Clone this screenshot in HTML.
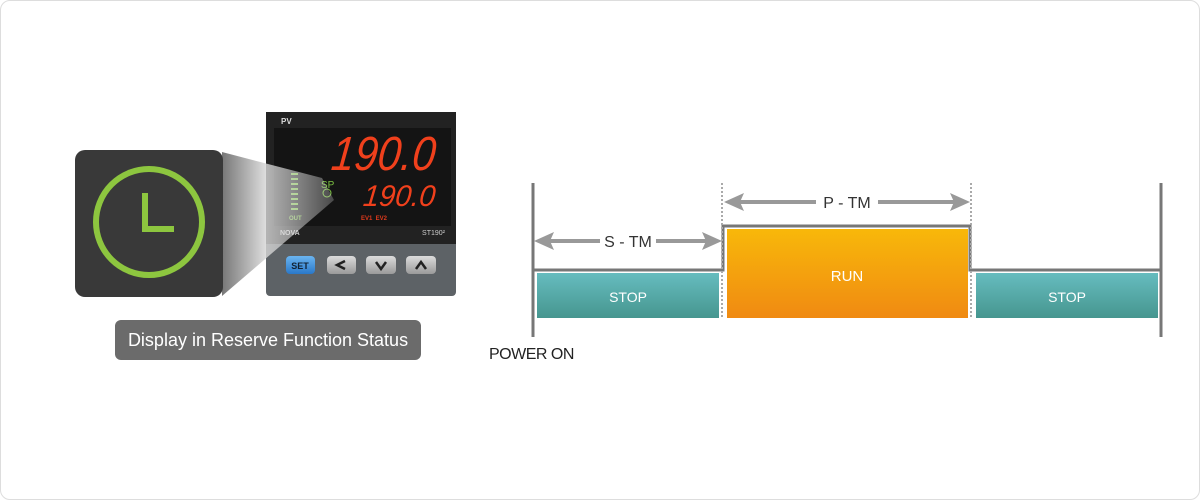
<!DOCTYPE html>
<html><head><meta charset="utf-8"><style>
body{margin:0;background:#fff;}
.wrap{position:relative;width:1200px;height:500px;overflow:hidden;font-family:"Liberation Sans",sans-serif;}
.frame{position:absolute;left:0;top:0;width:1198px;height:498px;border:1px solid #ddd;border-radius:10px;}
.abs{position:absolute;}
</style></head><body><div class="wrap">
<div class="frame"></div>
<svg class="abs" style="left:0;top:0" width="1200" height="500">
<defs>
<linearGradient id="beam" x1="0" x2="1" y1="0" y2="0"><stop offset="0" stop-color="#555"/><stop offset="0.4" stop-color="#d8d8d8"/><stop offset="1" stop-color="#eee" stop-opacity="0.3"/></linearGradient>
<linearGradient id="run" x1="0" x2="0" y1="0" y2="1"><stop offset="0" stop-color="#f8b80a"/><stop offset="1" stop-color="#f08a12"/></linearGradient>
<linearGradient id="stop" x1="0" x2="0" y1="0" y2="1"><stop offset="0" stop-color="#66bcbf"/><stop offset="1" stop-color="#46968f"/></linearGradient>
<linearGradient id="btn" x1="0" x2="0" y1="0" y2="1"><stop offset="0" stop-color="#dcdcdc"/><stop offset="1" stop-color="#9a9a9a"/></linearGradient>
<linearGradient id="set" x1="0" x2="0" y1="0" y2="1"><stop offset="0" stop-color="#6ab4f0"/><stop offset="1" stop-color="#2a78c8"/></linearGradient>
</defs>
<!-- device -->
<rect x="266" y="112" width="190" height="184" rx="4" fill="#5d6266"/>
<rect x="266" y="112" width="190" height="132" fill="#222"/>
<rect x="274" y="128" width="177" height="98" fill="#141414"/>
<text x="281" y="124" font-size="8" font-weight="bold" fill="#ddd">PV</text>
<text x="434" y="170" font-size="48" fill="#f0401c" text-anchor="end" font-style="italic" transform="skewX(-6) translate(18,0)" textLength="104" lengthAdjust="spacingAndGlyphs">190.0</text>
<text x="434" y="206" font-size="30" fill="#f0401c" text-anchor="end" font-style="italic" transform="skewX(-6) translate(22,0)" textLength="72" lengthAdjust="spacingAndGlyphs">190.0</text>
<g fill="#7cc242"><rect x="291" y="173" width="7" height="2"/><rect x="291" y="178" width="7" height="2"/><rect x="291" y="183" width="7" height="2"/><rect x="291" y="188" width="7" height="2"/><rect x="291" y="193" width="7" height="2"/><rect x="291" y="198" width="7" height="2"/><rect x="291" y="203" width="7" height="2"/><rect x="291" y="208" width="7" height="2"/></g>
<text x="289" y="220" font-size="6" font-weight="bold" fill="#7cc242">OUT</text>
<text x="321" y="188" font-size="10" fill="#7cc242">SP</text>
<circle cx="327" cy="193" r="4" fill="none" stroke="#7cc242" stroke-width="1"/>
<text x="361" y="220" font-size="6" font-weight="bold" fill="#e03a1c">EV1&#160;&#160;EV2</text>
<text x="280" y="235" font-size="7" font-weight="bold" fill="#ccc">NOVA</text>
<text x="445" y="235" font-size="7" fill="#ccc" text-anchor="end">ST190²</text>
<rect x="286" y="256" width="29" height="18" rx="4" fill="url(#set)"/>
<text x="300" y="269" font-size="9" font-weight="bold" fill="#123" text-anchor="middle">SET</text>
<rect x="327" y="256" width="29" height="18" rx="4" fill="url(#btn)"/>
<rect x="366" y="256" width="30" height="18" rx="4" fill="url(#btn)"/>
<rect x="406" y="256" width="30" height="18" rx="4" fill="url(#btn)"/>
<path d="M345 261 L337 265 L345 269" fill="none" stroke="#222" stroke-width="2.5"/>
<path d="M376 262 L381 269 L386 262" fill="none" stroke="#222" stroke-width="2.5"/>
<path d="M416 269 L421 262 L426 269" fill="none" stroke="#222" stroke-width="2.5"/>
<!-- beam -->
<polygon points="222,152 322,178 334,200 222,296" fill="url(#beam)" opacity="0.8"/>
<!-- zoom square -->
<rect x="75" y="150" width="148" height="147" rx="10" fill="#393939"/>
<circle cx="149" cy="222" r="53" fill="none" stroke="#8dc63f" stroke-width="6"/>
<path d="M145 193 V229 H174" fill="none" stroke="#8dc63f" stroke-width="6"/>
<!-- label -->
<rect x="115" y="320" width="306" height="40" rx="6" fill="#6b6b6b"/>
<text x="268" y="346" font-size="18" fill="#fff" text-anchor="middle">Display in Reserve Function Status</text>
<!-- timing -->
<rect x="537" y="273" width="182" height="45" fill="url(#stop)"/>
<rect x="976" y="273" width="182" height="45" fill="url(#stop)"/>
<rect x="727" y="229" width="241" height="89" fill="url(#run)"/>
<path d="M533 270 H723 V226 H970 V270 H1161" fill="none" stroke="#777" stroke-width="3"/>
<line x1="533" y1="183" x2="533" y2="337" stroke="#777" stroke-width="3"/>
<line x1="1161" y1="183" x2="1161" y2="337" stroke="#777" stroke-width="3"/>
<line x1="722" y1="183" x2="722" y2="318" stroke="#aaa" stroke-width="2" stroke-dasharray="2,2"/>
<line x1="971" y1="183" x2="971" y2="318" stroke="#aaa" stroke-width="2" stroke-dasharray="2,2"/>
<g fill="#999" stroke="#999">
<line x1="540" y1="241" x2="600" y2="241" stroke-width="4"/><line x1="656" y1="241" x2="710" y2="241" stroke-width="4"/>
<polygon points="534,241 554,232 550,241 554,250" stroke="none"/><polygon points="722,241 702,232 706,241 702,250" stroke="none"/>
<line x1="730" y1="202" x2="816" y2="202" stroke-width="4"/><line x1="878" y1="202" x2="960" y2="202" stroke-width="4"/>
<polygon points="724,202 744,193 740,202 744,211" stroke="none"/><polygon points="970,202 950,193 954,202 950,211" stroke="none"/>
</g>
<text x="628" y="247" font-size="16" fill="#333" text-anchor="middle">S - TM</text>
<text x="847" y="208" font-size="16" fill="#333" text-anchor="middle">P - TM</text>
<text x="628" y="302" font-size="14" fill="#fff" text-anchor="middle">STOP</text>
<text x="1067" y="302" font-size="14" fill="#fff" text-anchor="middle">STOP</text>
<text x="847" y="281" font-size="15" fill="#fff" text-anchor="middle">RUN</text>
<text x="489" y="359" font-size="16" fill="#222" letter-spacing="-0.5">POWER ON</text>
</svg>
</div></body></html>
